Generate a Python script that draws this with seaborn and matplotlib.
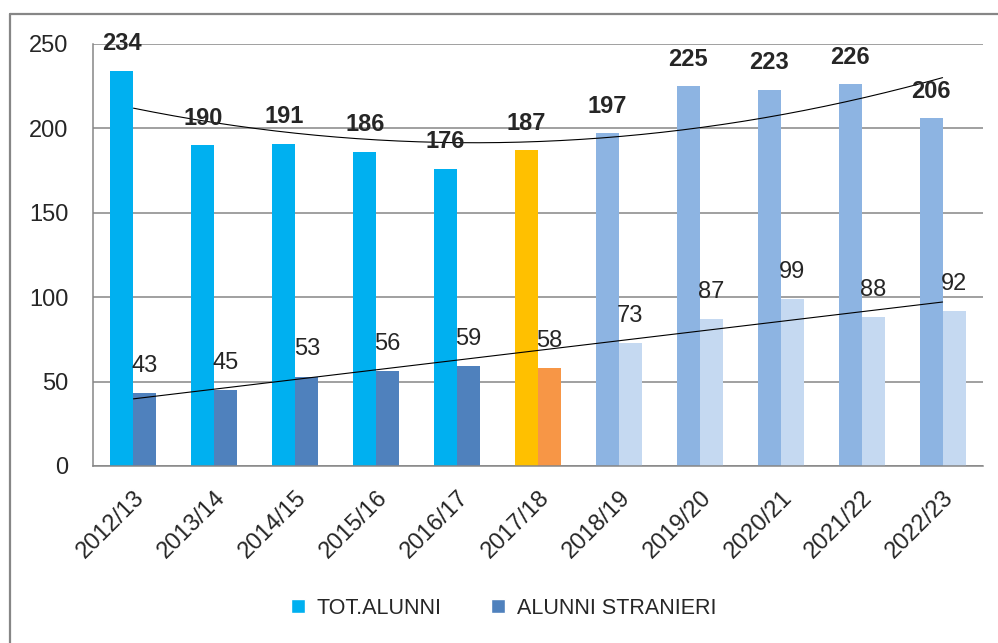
import matplotlib

matplotlib.use("Agg")

import matplotlib.pyplot as plt  # noqa: E402
import numpy as np  # noqa: E402
import pandas as pd  # noqa: E402
import seaborn as sns  # noqa: E402
from matplotlib.lines import Line2D  # noqa: E402
from matplotlib.patches import Patch  # noqa: E402

seasons = ["2012/13", "2013/14", "2014/15", "2015/16", "2016/17", "2017/18",
           "2018/19", "2019/20", "2020/21", "2021/22", "2022/23"]
tot_alunni = [234, 190, 191, 186, 176, 187, 197, 225, 223, 226, 206]
alunni_stranieri = [43, 45, 53, 56, 59, 58, 73, 87, 99, 88, 92]

tot_colors = ["#00B0F0"] * 5 + ["#FFC000"] + ["#8DB4E2"] * 5
str_colors = ["#4F81BD"] * 5 + ["#F79646"] + ["#C5D9F1"] * 5

GRAY = "#868686"
FS = 17

df = pd.DataFrame({
    "anno": seasons * 2,
    "valore": tot_alunni + alunni_stranieri,
    "serie": ["TOT.ALUNNI"] * len(seasons) + ["ALUNNI STRANIERI"] * len(seasons),
})

sns.set_style("white")
plt.rcParams["font.family"] = ["Liberation Sans", "DejaVu Sans"]

fig = plt.figure(figsize=(9.98, 6.43), dpi=100)
ax = fig.add_axes([0.0932, 0.2753, 0.8918, 0.6563])

sns.barplot(data=df, x="anno", y="valore", hue="serie",
            palette=["#00B0F0", "#4F81BD"], width=0.568, gap=0,
            saturation=1, linewidth=0, ax=ax, legend=False, errorbar=None)

# per-bar colours and labels
for bar, c, v in zip(ax.containers[0], tot_colors, tot_alunni):
    bar.set_facecolor(c)
    bar.set_edgecolor("none")
    ax.annotate(str(v), (bar.get_x() + bar.get_width() / 2, v),
                xytext=(0, 19.5), textcoords="offset points",
                ha="center", va="center", fontsize=FS, fontweight="bold")
for bar, c, v in zip(ax.containers[1], str_colors, alunni_stranieri):
    bar.set_facecolor(c)
    bar.set_edgecolor("none")
    ax.annotate(str(v), (bar.get_x() + bar.get_width() / 2, v),
                xytext=(0, 19.5), textcoords="offset points",
                ha="center", va="center", fontsize=FS)

# trend lines (poly 2 on totals, linear on foreign pupils)
xs = np.arange(len(seasons))
xx = np.linspace(0, len(seasons) - 1, 200)
ax.plot(xx, np.polyval(np.polyfit(xs, tot_alunni, 2), xx), color="black", lw=0.8)
ax.plot(xx, np.polyval(np.polyfit(xs, alunni_stranieri, 1), xx), color="black", lw=0.8)

ax.set_ylim(0, 250)
ax.set_xlim(-0.5, len(seasons) - 0.5)
ax.set_yticks(range(0, 251, 50))
ax.yaxis.grid(True, color=GRAY, lw=1.1)
ax.set_axisbelow(True)
ax.set_xlabel("")
ax.set_ylabel("")

for s in ["top", "right"]:
    ax.spines[s].set_visible(False)
for s in ["left", "bottom"]:
    ax.spines[s].set_color(GRAY)
    ax.spines[s].set_linewidth(1.1)

ax.tick_params(axis="y", length=7, width=1.1, color=GRAY, pad=10.5, labelsize=FS)
ax.set_xticks(np.arange(-0.5, len(seasons)), minor=True)
ax.tick_params(axis="x", which="minor", length=6.5, width=1.1, color=GRAY, direction="out")
ax.tick_params(axis="x", which="major", length=0, pad=15, labelsize=FS)
plt.setp(ax.get_xticklabels(), rotation=45, ha="right", rotation_mode="anchor")

handles = [Patch(facecolor="#00B0F0", label="TOT.ALUNNI"),
           Patch(facecolor="#4F81BD", label="ALUNNI STRANIERI")]
fig.legend(handles=handles, loc="center", bbox_to_anchor=(0.505, 0.054), ncol=2,
           frameon=False, fontsize=15.5, handlelength=0.65, handleheight=0.65,
           handletextpad=0.55, columnspacing=2.3)

# outer chart frame (cropped on right/bottom)
fig.add_artist(Line2D([10 / 998, 10 / 998], [0, 1 - 14 / 643], color=GRAY, lw=1.6,
                      transform=fig.transFigure))
fig.add_artist(Line2D([10 / 998, 1], [1 - 14 / 643, 1 - 14 / 643], color=GRAY, lw=1.6,
                      transform=fig.transFigure))

fig.savefig("out.png", dpi=100)
